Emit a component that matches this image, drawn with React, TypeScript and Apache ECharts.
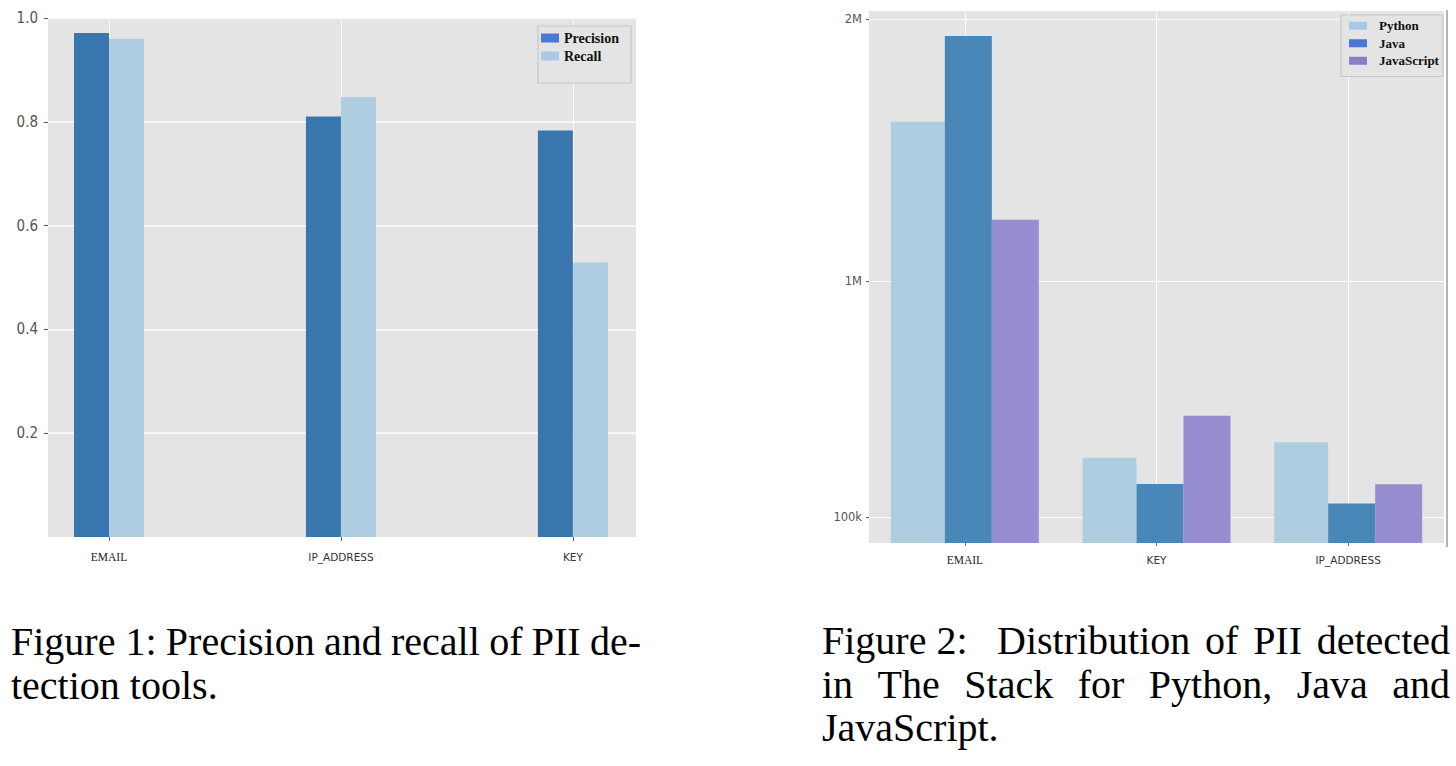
import React, { useEffect, useRef } from 'react';
import * as echarts from 'echarts';

// ---------- Figure 1 data ----------
const fig1Categories = ['EMAIL', 'IP_ADDRESS', 'KEY'];
const fig1Precision = [0.971, 0.81, 0.783];
const fig1Recall = [0.96, 0.848, 0.529];
const fig1YTicks = [0.2, 0.4, 0.6, 0.8, 1.0];

// ---------- Figure 2 data ----------
const fig2Categories = ['EMAIL', 'KEY', 'IP_ADDRESS'];
const fig2Python = [1607000, 325000, 384000];
const fig2Java = [1935000, 225000, 151000];
const fig2JavaScript = [1233000, 486000, 224000];
const fig2YTicks = [100000, 1000000, 2000000];
const fig2YLabels = ['100k', '1M', '2M'];

// ---------- Captions ("~" = non-stretching space, double space = wider gap) ----------
const caption1 = ['Figure~1: Precision and recall of PII de-', 'tection tools.'];
const caption2 = ['Figure~2:  Distribution of PII detected', 'in The Stack for Python, Java and', 'JavaScript.'];

const SERIF = '"Liberation Serif", "Times New Roman", serif';
const SANS = '"DejaVu Sans", sans-serif';
const NARROW = '"Liberation Sans Narrow", "DejaVu Sans Condensed", sans-serif';
const PLOT_BG = '#e4e4e4';
const CAP_SIZE = 40;

function justify(line: string, width: number, size: number) {
  const ctx = document.createElement('canvas').getContext('2d')!;
  ctx.font = `${size}px ${SERIF}`;
  const parts = line.split(/( +)/);
  const words: string[] = [];
  const weights: number[] = [];
  parts.forEach((p, i) => {
    if (i % 2 === 0) words.push(p.replace(/~/g, ' '));
    else weights.push(p.length);
  });
  const total = words.reduce((s, w) => s + ctx.measureText(w).width, 0);
  const wsum = weights.reduce((a, b) => a + b, 0);
  const unit = (width - total) / wsum;
  const rich: any = {};
  let text = words[0];
  weights.forEach((w, i) => {
    const key = 'g' + w;
    rich[key] = { width: unit * w, fontSize: size, fontFamily: SERIF };
    text += `{${key}| }` + words[i + 1];
  });
  return { text, rich };
}

function captionLine(line: string, x: number, y: number, width: number | null) {
  if (width == null) {
    return {
      type: 'text', x, y, silent: true,
      style: { text: line.replace(/~/g, ' '), fontSize: CAP_SIZE, fontFamily: SERIF, fill: '#000', verticalAlign: 'middle' },
    };
  }
  const j = justify(line, width, CAP_SIZE);
  return {
    type: 'text', x, y, silent: true,
    style: {
      text: j.text, fontSize: CAP_SIZE, fontFamily: SERIF, fill: '#000', verticalAlign: 'middle',
      rich: j.rich,
    },
  };
}

function catLabel(cats: string[]) {
  return (v: number) => {
    const name = cats[Math.round(v)] ?? '';
    return name === 'EMAIL' ? `{s|${name}}` : `{n|${name}}`;
  };
}

const catRich = {
  s: { fontFamily: SERIF, fontSize: 11.5, color: '#222' },
  n: { fontFamily: SANS, fontSize: 10.5, color: '#333' },
};

export default function App() {
  const ref = useRef<HTMLDivElement>(null);
  useEffect(() => {
    const chart = echarts.init(ref.current!, null, { renderer: 'svg', width: 1456, height: 766 });
    const pos1 = fig1Categories.map((_, i) => i);
    const pos2 = fig2Categories.map((_, i) => i);
    const option: any = {
      animation: false,
      backgroundColor: '#fff',
      grid: [
        { left: 48, top: 18, width: 588, height: 519, show: true, backgroundColor: PLOT_BG, borderWidth: 0 },
        { left: 869, top: 11, width: 575, height: 532, show: true, backgroundColor: PLOT_BG, borderWidth: 0 },
      ],
      xAxis: [
        {
          type: 'value', gridIndex: 0, min: -0.263, max: 2.272, position: 'bottom',
          axisLine: { show: false, onZero: false },
          axisTick: { show: true, length: 4, customValues: pos1, lineStyle: { color: '#666' } },
          axisLabel: { customValues: pos1, formatter: catLabel(fig1Categories), margin: 14, rich: catRich },
          splitLine: { show: true, lineStyle: { color: '#fff', width: 1 } },
        },
        {
          type: 'value', gridIndex: 1, min: -0.5, max: 2.5, position: 'bottom',
          axisLine: { show: false, onZero: false },
          axisTick: { show: true, length: 3, customValues: pos2, lineStyle: { color: '#666' } },
          axisLabel: { customValues: pos2, formatter: catLabel(fig2Categories), margin: 11, rich: catRich },
          splitLine: { show: true, lineStyle: { color: '#fff', width: 1 } },
        },
      ],
      yAxis: [
        {
          type: 'value', gridIndex: 0, min: 0, max: 1, position: 'left',
          axisLine: { show: false, onZero: false },
          axisTick: { show: true, length: 4, customValues: fig1YTicks, lineStyle: { color: '#555' } },
          axisLabel: {
            customValues: fig1YTicks, formatter: (v: number) => v.toFixed(1),
            margin: 10, color: '#555', fontFamily: NARROW, fontSize: 15,
          },
          splitLine: { show: true, lineStyle: { color: '#fff', width: 1.5 } },
        },
        {
          type: 'value', gridIndex: 1, min: 0, max: 2030000, position: 'left',
          axisLine: { show: false, onZero: false },
          axisTick: { show: true, length: 3, customValues: fig2YTicks, lineStyle: { color: '#555' } },
          axisLabel: {
            customValues: fig2YTicks, formatter: (v: number) => fig2YLabels[fig2YTicks.indexOf(v)] ?? '',
            margin: 7, color: '#555', fontFamily: SANS, fontSize: 11.5,
          },
          splitLine: { show: true, lineStyle: { color: '#fff', width: 1 } },
        },
      ],
      legend: [
        {
          orient: 'vertical', left: 538, top: 26, icon: 'rect',
          itemWidth: 18, itemHeight: 9, itemGap: 2,
          padding: [4, 12, 19, 3],
          backgroundColor: PLOT_BG, borderColor: '#c6c6c6', borderWidth: 1.2,
          textStyle: { fontFamily: SERIF, fontWeight: 'bold', fontSize: 14, color: '#111', lineHeight: 16 },
          data: [
            { name: 'Precision', itemStyle: { color: '#4a78d6' } },
            { name: 'Recall', itemStyle: { color: '#aec7e8' } },
          ],
        },
        {
          orient: 'vertical', left: 1341, top: 15, icon: 'rect',
          itemWidth: 18, itemHeight: 8, itemGap: 2,
          padding: [3, 4, 8, 8],
          backgroundColor: PLOT_BG, borderColor: '#c6c6c6', borderWidth: 1.2,
          textStyle: { fontFamily: SERIF, fontWeight: 'bold', fontSize: 13, color: '#111', lineHeight: 15.5, padding: [0, 0, 0, 7] },
          data: [
            { name: 'Python', itemStyle: { color: '#a9c8e8' } },
            { name: 'Java', itemStyle: { color: '#4a76d4' } },
            { name: 'JavaScript', itemStyle: { color: '#8a7cc6' } },
          ],
        },
      ],
      series: [
        {
          name: 'Precision', type: 'bar', xAxisIndex: 0, yAxisIndex: 0, barWidth: 35, barGap: '0%',
          itemStyle: { color: '#3a76ae' },
          data: fig1Precision.map((v, i) => [pos1[i], v]),
        },
        {
          name: 'Recall', type: 'bar', xAxisIndex: 0, yAxisIndex: 0, barWidth: 35, barGap: '0%',
          itemStyle: { color: '#aecde1' },
          data: fig1Recall.map((v, i) => [pos1[i], v]),
        },
        {
          name: 'Python', type: 'bar', xAxisIndex: 1, yAxisIndex: 1, barWidth: 54, barGap: '0%',
          itemStyle: { color: '#aecde1' },
          data: fig2Python.map((v, i) => [pos2[i], v]),
        },
        {
          name: 'Java', type: 'bar', xAxisIndex: 1, yAxisIndex: 1, barWidth: 47, barGap: '0%',
          itemStyle: { color: '#4a87b9' },
          data: fig2Java.map((v, i) => [pos2[i], v]),
        },
        {
          name: 'JavaScript', type: 'bar', xAxisIndex: 1, yAxisIndex: 1, barWidth: 47, barGap: '0%',
          itemStyle: { color: '#978dd1' },
          data: fig2JavaScript.map((v, i) => [pos2[i], v]),
        },
      ],
      graphic: [
        { type: 'line', silent: true, shape: { x1: 1447, y1: 10, x2: 1447, y2: 547 }, style: { stroke: '#9a9a9a', lineWidth: 1.5 } },
        captionLine(caption1[0], 11, 641, 630),
        captionLine(caption1[1], 11, 685, null),
        captionLine(caption2[0], 822, 640, 628),
        captionLine(caption2[1], 822, 684, 628),
        captionLine(caption2[2], 822, 727, null),
      ],
    };
    chart.setOption(option);
    return () => chart.dispose();
  }, []);
  return (
    <div
      ref={ref}
      style={{ position: 'absolute', left: 0, top: 0, width: 1456, height: 766, background: '#fff' }}
    />
  );
}
